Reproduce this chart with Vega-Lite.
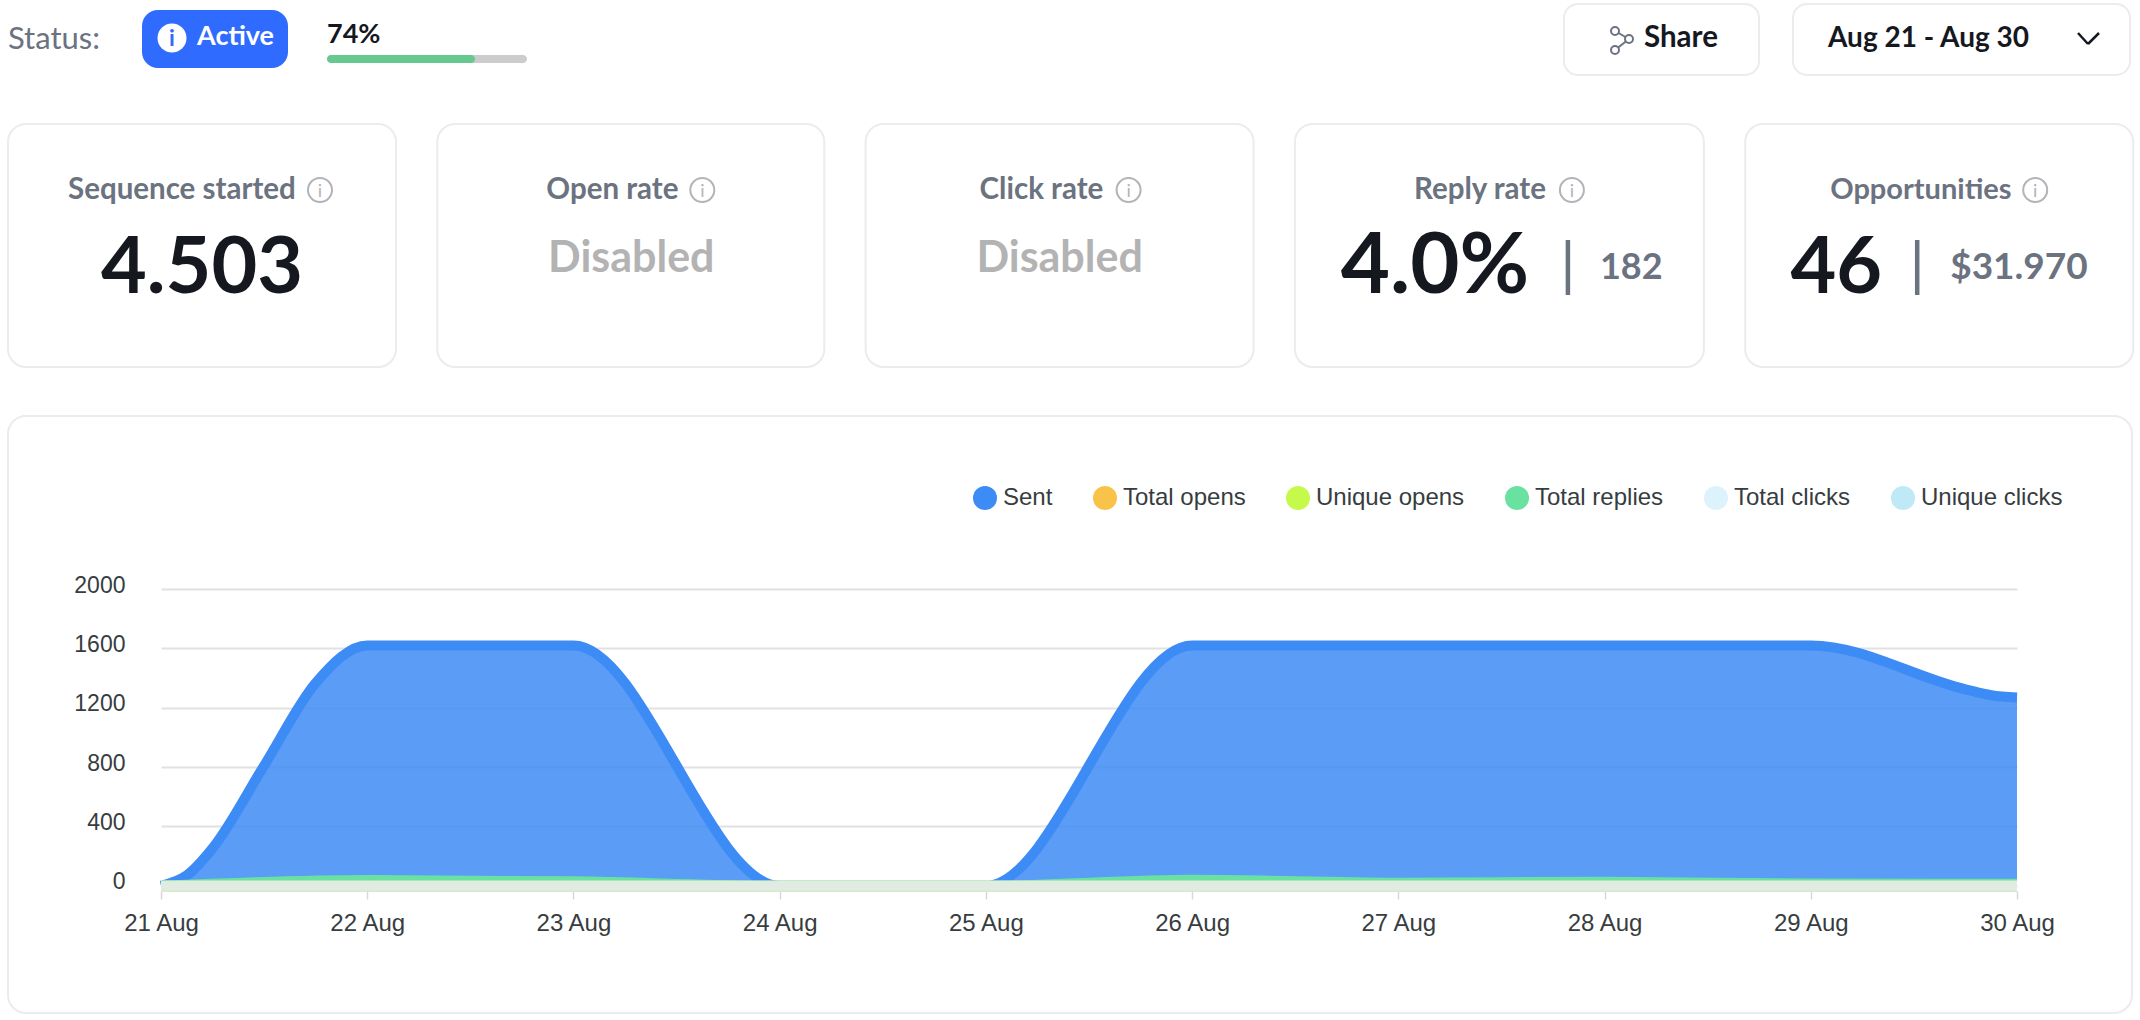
{"$schema":"https://vega.github.io/schema/vega-lite/v6.json","background":"white","padding":{"left":7,"top":3,"right":0,"bottom":0},"autosize":{"type":"pad"},"config":{"text":{"baseline":"alphabetic","font":"Lato"},"view":{"stroke":null},"axis":{"labelFont":"Liberation Sans"}},"vconcat":[{"hconcat":[{"hconcat":[{"hconcat":[{"width":134,"height":71,"data":{"values":[{"label":"Status:"}]},"mark":{"type":"text","x":0,"y":45,"align":"left","fontSize":31,"fontWeight":400,"color":"#6b7280"},"encoding":{"text":{"field":"label"}}},{"width":146,"height":71,"data":{"values":[{"label":"Active"}]},"layer":[{"mark":{"type":"rect","x":0,"x2":146,"y":6,"y2":64,"color":"#2f6bff","cornerRadius":16},"encoding":{}},{"mark":{"type":"point","shape":"circle","filled":true,"opacity":1,"color":"white","size":841,"x":30,"y":34},"encoding":{}},{"mark":{"type":"text","text":"i","x":30,"y":42,"align":"center","fontSize":23,"fontWeight":700,"color":"#2f6bff"},"encoding":{}},{"mark":{"type":"text","x":55,"y":41,"align":"left","fontSize":27,"fontWeight":700,"color":"white"},"encoding":{"text":{"field":"label"}}}]}],"spacing":0},{"width":200,"height":71,"data":{"values":[{"item":"track","pct":100},{"item":"done","pct":74}]},"encoding":{"x":{"field":"pct","type":"quantitative","stack":null,"scale":{"domain":[0,100]},"axis":null},"x2":{"datum":0},"y":{"value":51},"y2":{"value":59}},"layer":[{"transform":[{"filter":"datum.item==='track'"}],"mark":{"type":"rect","color":"#cccccc","cornerRadius":4}},{"transform":[{"filter":"datum.item==='done'"}],"mark":{"type":"rect","color":"#66c990","cornerRadius":4}},{"transform":[{"filter":"datum.item==='done'"},{"calculate":"datum.pct+'%'","as":"label"}],"mark":{"type":"text","align":"left","fontSize":27,"fontWeight":700,"color":"#15181e"},"encoding":{"x":{"value":0},"x2":null,"y":{"value":39},"y2":null,"text":{"field":"label"}}}]}],"spacing":39},{"hconcat":[{"width":195,"height":71,"view":{"stroke":"#ebebf0","strokeWidth":2,"cornerRadius":14},"data":{"values":[{"label":"Share"}]},"layer":[{"mark":{"type":"rule","color":"#6b7280","strokeWidth":2},"encoding":{"x":{"value":51},"y":{"value":27},"x2":{"value":65},"y2":{"value":35}}},{"mark":{"type":"rule","color":"#6b7280","strokeWidth":2},"encoding":{"x":{"value":65},"y":{"value":35},"x2":{"value":51},"y2":{"value":46}}},{"mark":{"type":"point","shape":"circle","filled":true,"opacity":1,"fill":"white","stroke":"#6b7280","strokeWidth":2,"size":64,"x":51,"y":27},"encoding":{}},{"mark":{"type":"point","shape":"circle","filled":true,"opacity":1,"fill":"white","stroke":"#6b7280","strokeWidth":2,"size":64,"x":65,"y":35},"encoding":{}},{"mark":{"type":"point","shape":"circle","filled":true,"opacity":1,"fill":"white","stroke":"#6b7280","strokeWidth":2,"size":64,"x":51,"y":46},"encoding":{}},{"mark":{"type":"text","x":80,"y":43,"align":"left","fontSize":29.5,"fontWeight":700,"color":"#15181e"},"encoding":{"text":{"field":"label"}}}]},{"width":337,"height":71,"view":{"stroke":"#ebebf0","strokeWidth":2,"cornerRadius":14},"data":{"values":[{"label":"Aug 21 - Aug 30"}]},"layer":[{"mark":{"type":"text","x":35,"y":43,"align":"left","fontSize":28,"fontWeight":700,"color":"#15181e"},"encoding":{"text":{"field":"label"}}},{"mark":{"type":"rule","color":"#15181e","strokeWidth":2.5},"encoding":{"x":{"value":285},"y":{"value":29},"x2":{"value":295},"y2":{"value":40}}},{"mark":{"type":"rule","color":"#15181e","strokeWidth":2.5},"encoding":{"x":{"value":295},"y":{"value":40},"x2":{"value":306},"y2":{"value":29}}}]}],"spacing":32}],"spacing":1036},{"hconcat":[{"width":388,"height":243,"view":{"stroke":"#ebebf0","strokeWidth":2,"cornerRadius":18},"data":{"values":[{"label":"Sequence started","value":"4.503"}]},"layer":[{"mark":{"type":"text","x":60,"y":75,"align":"left","fontSize":29.5,"fontWeight":700,"color":"#6b7280"},"encoding":{"text":{"field":"label"}}},{"mark":{"type":"point","shape":"circle","filled":false,"opacity":1,"stroke":"#b3b3b8","strokeWidth":2,"size":576,"x":312,"y":66},"encoding":{}},{"mark":{"type":"text","text":"i","x":312,"y":73,"align":"center","fontSize":18,"color":"#b3b3b8"},"encoding":{}},{"mark":{"type":"text","x":194,"y":169,"align":"center","fontSize":79,"fontWeight":700,"color":"#15181e"},"encoding":{"text":{"field":"value"}}}]},{"width":387,"height":243,"view":{"stroke":"#ebebf0","strokeWidth":2,"cornerRadius":18},"data":{"values":[{"label":"Open rate","value":"Disabled"}]},"layer":[{"mark":{"type":"text","x":109,"y":75,"align":"left","fontSize":29.5,"fontWeight":700,"color":"#6b7280"},"encoding":{"text":{"field":"label"}}},{"mark":{"type":"point","shape":"circle","filled":false,"opacity":1,"stroke":"#b3b3b8","strokeWidth":2,"size":576,"x":265,"y":66},"encoding":{}},{"mark":{"type":"text","text":"i","x":265,"y":73,"align":"center","fontSize":18,"color":"#b3b3b8"},"encoding":{}},{"mark":{"type":"text","x":194,"y":148,"align":"center","fontSize":43,"fontWeight":700,"color":"#b3b3b3"},"encoding":{"text":{"field":"value"}}}]},{"width":388,"height":243,"view":{"stroke":"#ebebf0","strokeWidth":2,"cornerRadius":18},"data":{"values":[{"label":"Click rate","value":"Disabled"}]},"layer":[{"mark":{"type":"text","x":114,"y":75,"align":"left","fontSize":29.5,"fontWeight":700,"color":"#6b7280"},"encoding":{"text":{"field":"label"}}},{"mark":{"type":"point","shape":"circle","filled":false,"opacity":1,"stroke":"#b3b3b8","strokeWidth":2,"size":576,"x":263,"y":66},"encoding":{}},{"mark":{"type":"text","text":"i","x":263,"y":73,"align":"center","fontSize":18,"color":"#b3b3b8"},"encoding":{}},{"mark":{"type":"text","x":194,"y":148,"align":"center","fontSize":43,"fontWeight":700,"color":"#b3b3b3"},"encoding":{"text":{"field":"value"}}}]},{"width":409,"height":243,"view":{"stroke":"#ebebf0","strokeWidth":2,"cornerRadius":18},"data":{"values":[{"label":"Reply rate","value":"4.0%","extra":"182"}]},"layer":[{"mark":{"type":"text","x":119,"y":75,"align":"left","fontSize":29.5,"fontWeight":700,"color":"#6b7280"},"encoding":{"text":{"field":"label"}}},{"mark":{"type":"point","shape":"circle","filled":false,"opacity":1,"stroke":"#b3b3b8","strokeWidth":2,"size":576,"x":277,"y":66},"encoding":{}},{"mark":{"type":"text","text":"i","x":277,"y":73,"align":"center","fontSize":18,"color":"#b3b3b8"},"encoding":{}},{"mark":{"type":"text","x":140,"y":169,"align":"center","fontSize":85,"fontWeight":700,"color":"#15181e"},"encoding":{"text":{"field":"value"}}},{"mark":{"type":"rule","color":"#6b7280","strokeWidth":4.5},"encoding":{"x":{"value":273},"y":{"value":116},"y2":{"value":171}}},{"mark":{"type":"text","x":305,"y":155,"align":"left","fontSize":36,"fontWeight":700,"color":"#6b7280"},"encoding":{"text":{"field":"extra"}}}]},{"width":388,"height":243,"view":{"stroke":"#ebebf0","strokeWidth":2,"cornerRadius":18},"data":{"values":[{"label":"Opportunities","value":"46","extra":"$31.970"}]},"layer":[{"mark":{"type":"text","x":85,"y":75,"align":"left","fontSize":29,"fontWeight":700,"color":"#6b7280"},"encoding":{"text":{"field":"label"}}},{"mark":{"type":"point","shape":"circle","filled":false,"opacity":1,"stroke":"#b3b3b8","strokeWidth":2,"size":576,"x":290,"y":66},"encoding":{}},{"mark":{"type":"text","text":"i","x":290,"y":73,"align":"center","fontSize":18,"color":"#b3b3b8"},"encoding":{}},{"mark":{"type":"text","x":91,"y":169,"align":"center","fontSize":79,"fontWeight":700,"color":"#15181e"},"encoding":{"text":{"field":"value"}}},{"mark":{"type":"rule","color":"#6b7280","strokeWidth":4.5},"encoding":{"x":{"value":172},"y":{"value":116},"y2":{"value":171}}},{"mark":{"type":"text","x":205,"y":155,"align":"left","fontSize":37,"fontWeight":700,"color":"#6b7280"},"encoding":{"text":{"field":"extra"}}}]}],"spacing":39.3},{"width":2124,"height":597,"view":{"stroke":"#ebebf0","strokeWidth":2,"cornerRadius":18},"data":{"values":[{"date":"2023-08-21T00:00:00Z","series":"Sent","n":0},{"date":"2023-08-21T03:00:00Z","series":"Sent","n":70},{"date":"2023-08-21T06:00:00Z","series":"Sent","n":253},{"date":"2023-08-21T12:00:00Z","series":"Sent","n":810},{"date":"2023-08-21T18:00:00Z","series":"Sent","n":1367},{"date":"2023-08-22T00:00:00Z","series":"Sent","n":1620},{"date":"2023-08-23T00:00:00Z","series":"Sent","n":1620},{"date":"2023-08-24T00:00:00Z","series":"Sent","n":0},{"date":"2023-08-25T00:00:00Z","series":"Sent","n":0},{"date":"2023-08-26T00:00:00Z","series":"Sent","n":1620},{"date":"2023-08-27T00:00:00Z","series":"Sent","n":1620},{"date":"2023-08-28T00:00:00Z","series":"Sent","n":1620},{"date":"2023-08-29T00:00:00Z","series":"Sent","n":1620},{"date":"2023-08-29T18:00:00Z","series":"Sent","n":1324},{"date":"2023-08-29T21:00:00Z","series":"Sent","n":1284},{"date":"2023-08-30T00:00:00Z","series":"Sent","n":1269},{"date":"2023-08-21T00:00:00Z","series":"Total replies","n":0},{"date":"2023-08-22T00:00:00Z","series":"Total replies","n":39},{"date":"2023-08-23T00:00:00Z","series":"Total replies","n":30},{"date":"2023-08-24T00:00:00Z","series":"Total replies","n":0},{"date":"2023-08-25T00:00:00Z","series":"Total replies","n":0},{"date":"2023-08-26T00:00:00Z","series":"Total replies","n":40},{"date":"2023-08-27T00:00:00Z","series":"Total replies","n":21},{"date":"2023-08-28T00:00:00Z","series":"Total replies","n":28},{"date":"2023-08-29T00:00:00Z","series":"Total replies","n":15},{"date":"2023-08-30T00:00:00Z","series":"Total replies","n":13},{"date":"2023-08-21T00:00:00Z","series":"Unique clicks","n":0},{"date":"2023-08-30T00:00:00Z","series":"Unique clicks","n":0},{"date":"2023-08-21T00:00:00Z","series":"Unique opens","n":0},{"date":"2023-08-30T00:00:00Z","series":"Unique opens","n":0},{"date":"2023-08-21T00:00:00Z","series":"Total clicks","n":0},{"date":"2023-08-22T00:00:00Z","series":"Total clicks","n":0},{"date":"2023-08-23T00:00:00Z","series":"Total clicks","n":0},{"date":"2023-08-24T00:00:00Z","series":"Total clicks","n":0},{"date":"2023-08-25T00:00:00Z","series":"Total clicks","n":0},{"date":"2023-08-26T00:00:00Z","series":"Total clicks","n":0},{"date":"2023-08-27T00:00:00Z","series":"Total clicks","n":0},{"date":"2023-08-28T00:00:00Z","series":"Total clicks","n":0},{"date":"2023-08-29T00:00:00Z","series":"Total clicks","n":0},{"date":"2023-08-30T00:00:00Z","series":"Total clicks","n":0},{"date":"2023-08-21T00:00:00Z","series":"Total opens","n":0},{"date":"2023-08-22T00:00:00Z","series":"Total opens","n":0},{"date":"2023-08-23T00:00:00Z","series":"Total opens","n":0},{"date":"2023-08-24T00:00:00Z","series":"Total opens","n":0},{"date":"2023-08-25T00:00:00Z","series":"Total opens","n":0},{"date":"2023-08-26T00:00:00Z","series":"Total opens","n":0},{"date":"2023-08-27T00:00:00Z","series":"Total opens","n":0},{"date":"2023-08-28T00:00:00Z","series":"Total opens","n":0},{"date":"2023-08-29T00:00:00Z","series":"Total opens","n":0},{"date":"2023-08-30T00:00:00Z","series":"Total opens","n":0}]},"encoding":{"x":{"field":"date","type":"temporal","scale":{"type":"utc","range":[153,2009]},"axis":{"title":null,"format":"%-d %b","tickCount":"day","grid":false,"offset":-122,"domainColor":"#dfe3df","domainWidth":1,"tickColor":"#d8d8d8","tickWidth":1.5,"tickSize":8,"labelFontSize":24,"labelColor":"#373d3f","labelPadding":12,"labelFlush":false,"labelOverlap":false}},"y":{"field":"n","type":"quantitative","stack":null,"scale":{"domain":[0,2000],"nice":false,"range":[469.8,173]},"axis":{"title":null,"values":[0,400,800,1200,1600,2000],"format":"d","offset":-117,"domain":false,"ticks":false,"labelPadding":0,"labelFontSize":23,"labelColor":"#373d3f","labelOffset":-4,"grid":true,"gridColor":"#e1e1e1","gridWidth":2}},"color":{"field":"series","type":"nominal","scale":{"domain":["Sent","Total opens","Unique opens","Total replies","Total clicks","Unique clicks"],"range":["#3d8bf5","#f9c349","#c5fa4a","#69e2a1","#dcf3fb","#bfe9f7"]},"legend":{"title":null,"orient":"none","legendX":965,"legendY":482,"direction":"horizontal","columns":6,"columnPadding":40,"symbolType":"circle","symbolSize":576,"symbolStrokeWidth":0,"symbolOpacity":1,"labelFont":"Liberation Sans","labelFontSize":24,"labelColor":"#373d3f","labelOffset":6,"labelLimit":300}}},"layer":[{"mark":{"type":"area","interpolate":"monotone","opacity":0.85}},{"transform":[{"filter":"datum.series!=='Total opens'"}],"mark":{"type":"line","interpolate":"monotone","strokeWidth":10}},{"transform":[{"filter":"datum.series==='Total opens'"}],"mark":{"type":"line","interpolate":"monotone","strokeWidth":10,"opacity":0.14}}]}],"spacing":47}
